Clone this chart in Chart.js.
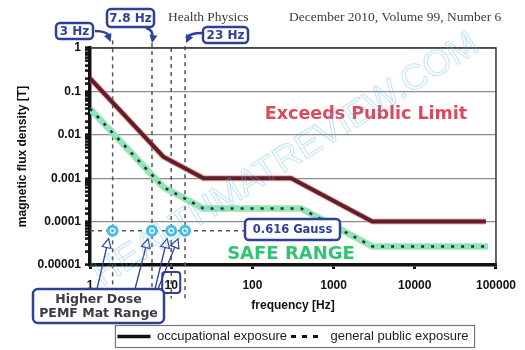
<!DOCTYPE html>
<html>
<head>
<meta charset="utf-8">
<script src="https://cdn.jsdelivr.net/npm/chart.js@4.4.1/dist/chart.umd.min.js"></script>
<style>
  html, body { margin: 0; padding: 0; background: #fff; }
  #wrap { width: 525px; height: 350px; }
</style>
</head>
<body>
<div id="wrap"><canvas id="fluxChart" width="525" height="350"></canvas></div>
<script>
// Reference levels (frequency in Hz, field in T)
const occFreq = [1, 8, 25, 300, 3000, 75000];
const occField = [0.2, 0.003125, 0.001, 0.001, 0.0001, 0.0001];
const pubFreq = [1, 8, 25, 400, 3000, 80000];
const pubField = [0.04, 0.000625, 0.0002, 0.0002, 0.0000267, 0.0000267];

// dashed marker lines as drawn on the figure
const markFreq = [1.9, 5.8, 10, 14.8];
const markTop = [1.5, 1.3, 1, 1.1];
const markBottom = 0.0000017;
const gaussField = 0.0000616;   // 0.616 Gauss
const gaussEndFreq = 82;

const xTickLabels = ['1', '10', '100', '1000', '10000', '100000'];
const yTickLabels = ['0.00001', '0.0001', '0.001', '0.01', '0.1', '1'];

Chart.defaults.font.family = "'Liberation Sans', Arial, sans-serif";
Chart.defaults.color = '#111';

const BLUE = '#2f409a';
const HEAVY = "'DejaVu Sans', sans-serif";

function isDecade(v) {
    const l = Math.log10(v);
    return Math.abs(l - Math.round(l)) < 1e-6;
}

function pts(xs, ys) {
    return xs.map((x, i) => ({ x: x, y: ys[i] }));
}

function roundBox(ctx, x, y, w, h, r, lw, fill) {
    ctx.beginPath();
    ctx.roundRect(x, y, w, h, r);
    if (fill) {
        ctx.fillStyle = fill;
        ctx.fill();
    }
    ctx.lineWidth = lw;
    ctx.strokeStyle = BLUE;
    ctx.stroke();
}

function arrowHead(ctx, x, y, ang, size, filled) {
    ctx.save();
    ctx.translate(x, y);
    ctx.rotate(ang);
    ctx.beginPath();
    ctx.moveTo(0, 0);
    ctx.lineTo(-size, -size * 0.5);
    ctx.lineTo(-size, size * 0.5);
    ctx.closePath();
    if (filled) {
        ctx.fillStyle = BLUE;
        ctx.fill();
    } else {
        ctx.fillStyle = '#fff';
        ctx.fill();
        ctx.lineWidth = 1.2;
        ctx.stroke();
    }
    ctx.restore();
}

function curvedArrow(ctx, x0, y0, cx, cy, x1, y1) {
    ctx.strokeStyle = BLUE;
    ctx.lineWidth = 2.5;
    ctx.beginPath();
    ctx.moveTo(x0, y0);
    ctx.quadraticCurveTo(cx, cy, x1, y1 - 3);
    ctx.stroke();
    arrowHead(ctx, x1, y1 + 2, Math.atan2(y1 - cy, x1 - cx), 8, true);
}

const decor = {
    id: 'decor',
    afterDatasetsDraw(chart) {
        const ctx = chart.ctx;
        const a = chart.chartArea;
        ctx.save();
        ctx.strokeStyle = '#333';
        ctx.lineWidth = 1.5;
        ctx.beginPath();
        ctx.moveTo(a.left, a.top);
        ctx.lineTo(a.right, a.top);
        ctx.lineTo(a.right, a.bottom);
        ctx.stroke();
        ctx.restore();
    },
    afterDraw(chart) {
        const ctx = chart.ctx;
        const xs = chart.scales.x;
        const ys = chart.scales.y;
        const lx = markFreq.map(f => xs.getPixelForValue(f));
        const gy = ys.getPixelForValue(gaussField);
        ctx.save();

        // journal header
        ctx.fillStyle = '#3a3a3a';
        ctx.font = "13.5px 'Liberation Serif', serif";
        ctx.textBaseline = 'middle';
        ctx.textAlign = 'left';
        ctx.fillText('Health Physics', 168, 17);
        ctx.fillText('December 2010, Volume 99, Number 6', 289, 17);

        // region labels
        ctx.textAlign = 'center';
        ctx.font = 'bold 17.5px ' + HEAVY;
        ctx.fillStyle = '#dc4a5e';
        ctx.fillText('Exceeds Public Limit', 366, 114);
        ctx.fillStyle = '#33c372';
        ctx.font = 'bold 18px ' + HEAVY;
        ctx.fillText('SAFE RANGE', 291, 254);

        // frequency callouts
        const callouts = [
            { text: '3 Hz', x: 56, y: 23, w: 37, h: 16 },
            { text: '7.8 Hz', x: 107, y: 9, w: 47, h: 18 },
            { text: '23 Hz', x: 203, y: 27, w: 45, h: 16 }
        ];
        callouts.forEach(c => {
            roundBox(ctx, c.x, c.y, c.w, c.h, 4, 2.5, '#fff');
            ctx.fillStyle = BLUE;
            ctx.font = 'bold 12px ' + HEAVY;
            ctx.fillText(c.text, c.x + c.w / 2, c.y + c.h / 2 + 0.5);
        });
        curvedArrow(ctx, 95, 31, 107, 31, lx[0] - 2, 40);
        curvedArrow(ctx, 146, 28, 154, 30, lx[1], 41);
        curvedArrow(ctx, 202, 33, 190, 33, lx[3] + 1, 41);

        // gauss label
        roundBox(ctx, 245, 219, 95, 21, 4, 2.5, '#fff');
        ctx.fillStyle = BLUE;
        ctx.font = 'bold 11.5px ' + HEAVY;
        ctx.fillText('0.616 Gauss', 292.5, 230);

        // box round the "10" tick
        roundBox(ctx, xs.getPixelForValue(10) - 9, 272, 18, 21, 3, 2, null);

        // PEMF range box and arrows
        const tails = [97, 135, 155, 158];
        ctx.strokeStyle = BLUE;
        lx.forEach((x, i) => {
            const hx = x - (i === 3 ? 7 : 4);
            const hy = gy + 8;
            ctx.lineWidth = 1.3;
            ctx.beginPath();
            ctx.moveTo(tails[i], 289);
            ctx.lineTo(hx, hy);
            ctx.stroke();
            arrowHead(ctx, hx, hy, Math.atan2(hy - 289, hx - tails[i]), 9, false);
        });
        roundBox(ctx, 33, 289, 131, 34, 5, 2.5, '#fff');
        ctx.fillStyle = '#3a3a48';
        ctx.font = 'bold 12.5px ' + HEAVY;
        ctx.fillText('Higher Dose', 98.5, 299.5);
        ctx.fillText('PEMF Mat Range', 98.5, 313.5);

        // legend frame
        const lg = chart.legend;
        if (lg && lg.legendHitBoxes.length) {
            const hb = lg.legendHitBoxes;
            const l = hb[0].left - 2;
            const last = hb[hb.length - 1];
            const r = last.left + last.width + 6;
            const cy = hb[0].top + hb[0].height / 2;
            ctx.strokeStyle = '#777';
            ctx.lineWidth = 1.2;
            ctx.strokeRect(l, cy - 11, r - l, 22);
        }

        // watermark
        ctx.translate(286, 160);
        ctx.rotate(-32 * Math.PI / 180);
        ctx.font = "36px 'Liberation Sans', sans-serif";
        ctx.strokeStyle = 'rgba(90, 185, 235, 0.4)';
        ctx.lineWidth = 1;
        ctx.strokeText('HEALTHMATREVIEW.COM', 0, 0);
        ctx.restore();
    }
};

const markerSets = markFreq.map((f, i) => ({
    label: 'marker ' + i,
    data: [{ x: f, y: markTop[i] }, { x: f, y: markBottom }],
    borderColor: '#555',
    borderWidth: 1.5,
    borderDash: [4, 4],
    pointRadius: 0,
    clip: false,
    order: 6
}));

const ctx = document.getElementById('fluxChart').getContext('2d');

new Chart(ctx, {
    type: 'line',
    data: {
        datasets: [
            {
                label: 'circles',
                data: markFreq.map(f => ({ x: f, y: gaussField })),
                showLine: false,
                pointRadius: 6,
                pointBackgroundColor: '#47bce9',
                pointBorderColor: '#47bce9',
                pointBorderWidth: 0,
                clip: false,
                order: 1
            },
            {
                label: 'circle centres',
                data: markFreq.map(f => ({ x: f, y: gaussField })),
                showLine: false,
                pointRadius: 2.3,
                pointBackgroundColor: 'rgba(0,0,0,0)',
                pointBorderColor: '#fff',
                pointBorderWidth: 1.2,
                clip: false,
                order: 0
            },
            {
                label: 'occupational exposure',
                data: pts(occFreq, occField),
                borderColor: '#5e1f27',
                borderWidth: 4,
                pointRadius: 0,
                order: 2
            },
            {
                label: 'occupational halo',
                data: pts(occFreq, occField),
                borderColor: 'rgba(226, 100, 115, 0.55)',
                borderWidth: 6,
                pointRadius: 0,
                order: 3
            },
            {
                label: 'general public exposure',
                data: pts(pubFreq, pubField),
                borderColor: '#1d3527',
                borderWidth: 2.5,
                borderDash: [3, 7],
                pointRadius: 0,
                order: 4
            },
            {
                label: 'public band',
                data: pts(pubFreq, pubField),
                borderColor: '#95e4b8',
                borderWidth: 6.5,
                pointRadius: 0,
                order: 5
            },
            {
                label: 'gauss line',
                data: [{ x: 1, y: gaussField }, { x: gaussEndFreq, y: gaussField }],
                borderColor: '#555',
                borderWidth: 1.5,
                borderDash: [4, 4],
                pointRadius: 0,
                order: 6
            },
            ...markerSets
        ]
    },
    options: {
        responsive: false,
        devicePixelRatio: 1,
        animation: false,
        layout: { padding: { top: 48, right: 28, left: 0, bottom: -3 } },
        plugins: {
            tooltip: { enabled: false },
            legend: {
                position: 'bottom',
                fullSize: false,
                labels: {
                    usePointStyle: true,
                    pointStyleWidth: 33,
                    padding: 4,
                    color: '#222',
                    font: { size: 13 },
                    generateLabels: () => [
                        { text: 'occupational exposure', pointStyle: 'line', strokeStyle: '#111', fillStyle: '#111', lineWidth: 3.5, lineDash: [], fontColor: '#222' },
                        { text: 'general public exposure', pointStyle: 'line', strokeStyle: '#111', fillStyle: '#111', lineWidth: 3, lineDash: [5, 6], fontColor: '#222' }
                    ]
                }
            }
        },
        scales: {
            x: {
                type: 'logarithmic',
                min: 1,
                max: 100000,
                afterFit: s => { s.height = 61; },
                grid: {
                    drawOnChartArea: false,
                    color: c => (c.tick && isDecade(c.tick.value)) ? '#111' : 'rgba(0,0,0,0)',
                    lineWidth: 3,
                    tickLength: 4
                },
                border: { display: true, color: '#111', width: 3.5 },
                ticks: {
                    autoSkip: false,
                    maxRotation: 0,
                    padding: 9,
                    color: '#111',
                    font: { size: 12, weight: 'bold' },
                    callback: v => isDecade(v) ? xTickLabels[Math.round(Math.log10(v))] : ''
                },
                title: {
                    display: true,
                    text: 'frequency [Hz]',
                    color: '#111',
                    font: { size: 12, weight: 'bold' },
                    padding: { top: 0, bottom: 13 }
                }
            },
            y: {
                type: 'logarithmic',
                min: 0.00001,
                max: 1,
                afterFit: s => { s.width = 90; },
                grid: {
                    color: c => (c.tick && isDecade(c.tick.value)) ? '#8c8c8c' : 'rgba(0,0,0,0)',
                    lineWidth: 1.2,
                    tickColor: '#111',
                    tickWidth: 2.5,
                    tickLength: 5
                },
                border: { display: true, color: '#111', width: 3.5 },
                ticks: {
                    autoSkip: false,
                    padding: 4,
                    color: '#111',
                    font: { size: 12, weight: 'bold' },
                    callback: v => isDecade(v) ? yTickLabels[Math.round(Math.log10(v)) + 5] : ''
                },
                title: {
                    display: true,
                    text: 'magnetic flux density [T]',
                    color: '#111',
                    font: { size: 12, weight: 'bold' },
                    padding: { top: 15, bottom: 0 }
                }
            }
        }
    },
    plugins: [decor]
});
</script>
</body>
</html>
